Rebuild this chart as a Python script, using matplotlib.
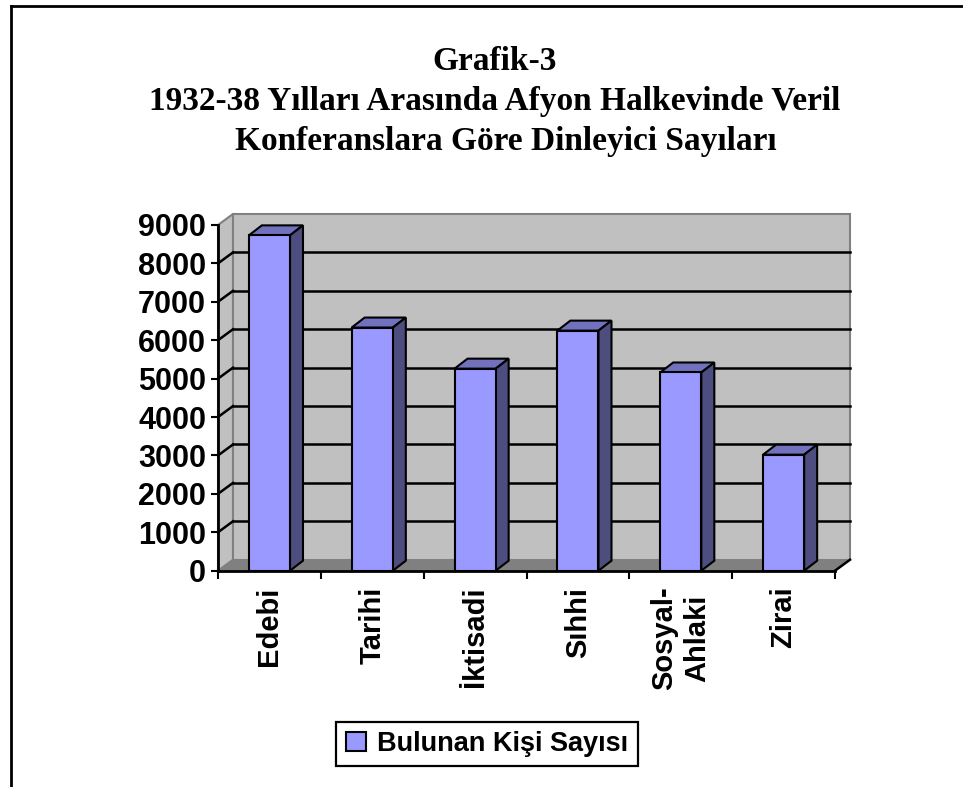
import numpy as np
import matplotlib
matplotlib.use('Agg')
import matplotlib.pyplot as plt
from matplotlib.patches import Polygon, Rectangle
from matplotlib.lines import Line2D

kategoriler = ['Edebi', 'Tarihi', 'İktisadi', 'Sıhhi', 'Sosyal-\nAhlaki', 'Zirai']
dinleyici = [8730, 6330, 5260, 6250, 5160, 3020]
yticks = np.arange(0, 9001, 1000)
seri_adi = 'Bulunan Kişi Sayısı'
baslik = ['Grafik-3',
          '1932-38 Yılları Arasında Afyon Halkevinde Veril',
          'Konferanslara Göre Dinleyici Sayıları']

plt.rcParams['font.family'] = ['Liberation Sans', 'DejaVu Sans']

W, H = 963, 787
fig = plt.figure(figsize=(W / 100, H / 100), dpi=100)
ax = fig.add_axes([218 / W, 1 - 570.7 / H, 617 / W, 345.7 / H])
n = len(kategoriler)
ymax = yticks[-1]
ax.set_xlim(0, n)
ax.set_ylim(0, ymax)
ax.patch.set_visible(False)

# derinlik (3B gorunum icin kaydirma)
dx, dy = 15 / 102.8, 11 / 345.7 * ymax
bdx, bdy = 13 / 102.8, 10 / 345.7 * ymax

duvar = '#c0c0c0'
kenar = '#808080'
ax.add_patch(Polygon([(0, 0), (n, 0), (n + dx, dy), (dx, dy)], closed=True,
                     fc='#808080', ec=kenar, lw=1, clip_on=False, zorder=1))
ax.add_patch(Polygon([(0, 0), (dx, dy), (dx, ymax + dy), (0, ymax)], closed=True,
                     fc=duvar, ec=kenar, lw=1.5, clip_on=False, zorder=1))
ax.add_patch(Rectangle((dx, dy), n, ymax, fc=duvar, ec=kenar, lw=1.5,
                       clip_on=False, zorder=1))
for t in yticks[1:-1]:
    ax.plot([dx, n + dx], [t + dy, t + dy], color='black', lw=1.8, clip_on=False, zorder=2)
    ax.plot([0, dx], [t, t + dy], color='black', lw=1.8, clip_on=False, zorder=2)
ax.plot([n, n + dx], [0, dy], color='black', lw=1.8, clip_on=False, zorder=3)

x = np.arange(n) + 0.5
w = 0.4
ax.bar(x, dinleyici, width=w, color='#9999ff', edgecolor='black', lw=1.5,
       zorder=5, label=seri_adi)
for xi, h in zip(x, dinleyici):
    x0, x1 = xi - w / 2, xi + w / 2
    ax.add_patch(Polygon([(x0, h), (x1, h), (x1 + bdx, h + bdy), (x0 + bdx, h + bdy)],
                         closed=True, fc='#7171bd', ec='black', lw=1.5, zorder=4, clip_on=False))
    ax.add_patch(Polygon([(x1, 0), (x1 + bdx, bdy), (x1 + bdx, h + bdy), (x1, h)],
                         closed=True, fc='#4d4d80', ec='black', lw=1.5, zorder=4, clip_on=False))

for s in ['top', 'right']:
    ax.spines[s].set_visible(False)
for s in ['left', 'bottom']:
    ax.spines[s].set_linewidth(2)
    ax.spines[s].set_zorder(6)

ax.set_yticks(yticks)
ax.set_yticklabels([str(v) for v in yticks], fontsize=22, fontweight='bold')
ax.tick_params(axis='y', direction='out', length=5, width=1.5, pad=3.5)

ax.set_xticks(np.arange(n + 1))
ax.set_xticklabels([])
ax.tick_params(axis='x', which='major', direction='out', length=6, width=1.5)
ax.set_xticks(x, minor=True)
ax.set_xticklabels(kategoriler, minor=True, rotation=90, fontsize=21,
                   fontweight='bold', va='top', ha='center', multialignment='center')
ax.tick_params(axis='x', which='minor', length=0, pad=11.5)

# baslik
serif = ['Liberation Serif', 'DejaVu Serif']
fig.text(495 / W, 1 - 70 / H, baslik[0], ha='center', va='baseline', fontsize=24,
         fontweight='bold', family=serif)
fig.text(495 / W, 1 - 110 / H, baslik[1], ha='center', va='baseline', fontsize=24,
         fontweight='bold', family=serif)
fig.text(506 / W, 1 - 150 / H, baslik[2], ha='center', va='baseline', fontsize=24,
         fontweight='bold', family=serif)

leg = fig.legend(loc='center', bbox_to_anchor=(487 / W, 1 - 744 / H),
                 prop={'size': 19.5, 'weight': 'bold'}, fancybox=False,
                 edgecolor='black', framealpha=1, handlelength=0.75,
                 handleheight=0.75, handletextpad=0.4, borderpad=0.35,
                 borderaxespad=0)
leg.get_frame().set_linewidth(1.6)

fig.add_artist(Line2D([11 / W, 11 / W], [0, 1 - 6 / H], color='black', lw=2,
                      transform=fig.transFigure))
fig.add_artist(Line2D([11 / W, 1], [1 - 6 / H, 1 - 6 / H], color='black', lw=2,
                      transform=fig.transFigure))

fig.savefig('out.png', dpi=100)
